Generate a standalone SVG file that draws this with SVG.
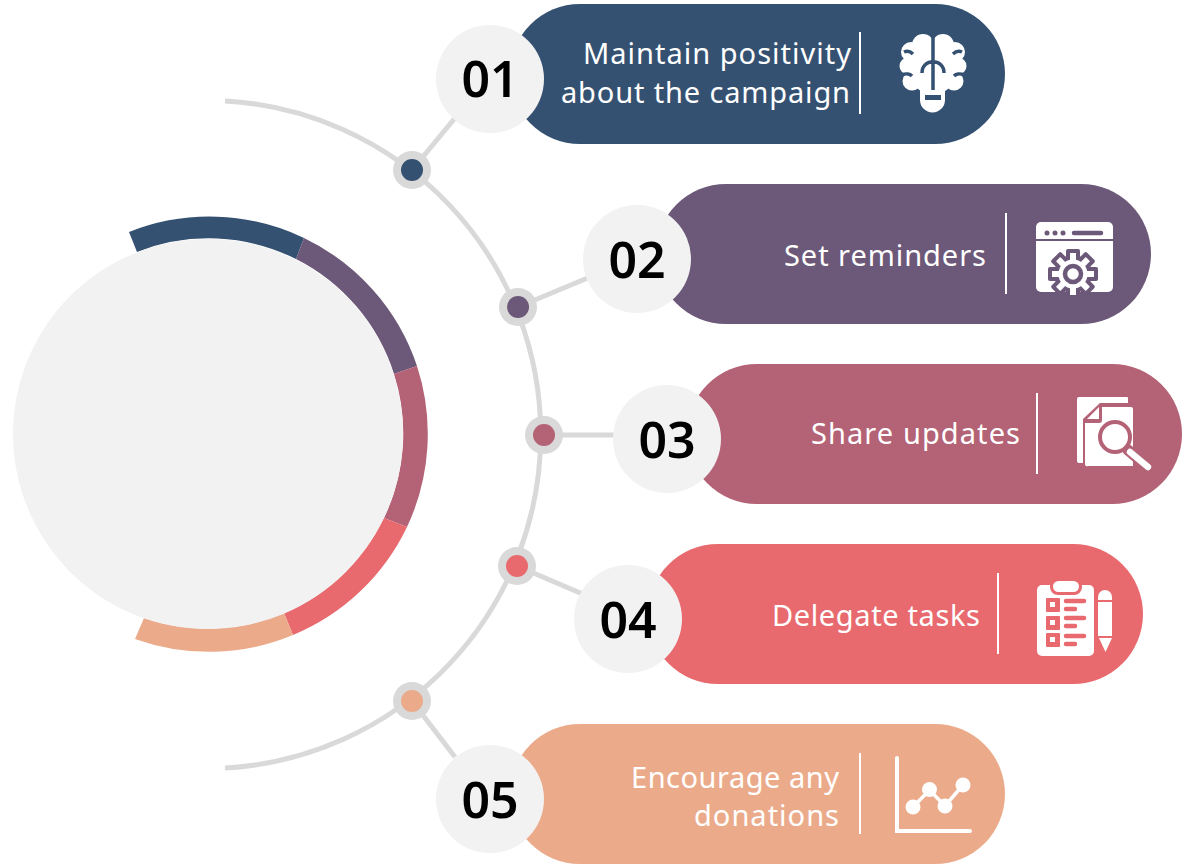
<svg xmlns="http://www.w3.org/2000/svg" width="1192" height="865" viewBox="0 0 1192 865">
<style>
.link{fill:none;stroke:#d9d9d9;stroke-width:5}
.halo{fill:#d9d9d9}
.disc{fill:#f2f2f2}
.num{font-family:"Noto Sans","Liberation Sans",sans-serif;font-size:50px;font-weight:600;fill:#000;text-anchor:middle}
.lbl{font-family:"Noto Sans","Liberation Sans",sans-serif;font-size:29px;fill:#fff}
.div{stroke:#fff;stroke-width:2}
.w{fill:#fff}
</style>
<defs>
<rect id="toothD" x="-7" y="-25" width="14" height="12" rx="2"/>
<rect id="toothW" x="-3" y="-21" width="6" height="9"/>
</defs>
<g id="hub">
<path d="M129 232A219 219 0 0 1 304 238L296 259A195 195 0 0 0 137 252Z" fill="#355172"/>
<path d="M304 238A219 219 0 0 1 417 366L394 374A195 195 0 0 0 296 259Z" fill="#6c5878"/>
<path d="M417 366A219 219 0 0 1 407 527L384 518A195 195 0 0 0 394 374Z" fill="#b46275"/>
<path d="M407 527A219 219 0 0 1 293 635L284 613A195 195 0 0 0 384 518Z" fill="#e86a6e"/>
<path d="M293 635A219 219 0 0 1 135 639L144 618A195 195 0 0 0 284 613Z" fill="#ebab8b"/>
<circle class="disc" cx="208" cy="434" r="195"/>
</g>
<g id="connectors">
<path class="link" d="M225 101A334 334 0 0 1 225 768"/>
<path class="link" d="M412 170L455 118"/>
<path class="link" d="M518 307L590 277"/>
<path class="link" d="M544 435L620 435"/>
<path class="link" d="M517 566L585 595"/>
<path class="link" d="M412 701L455 757"/>
</g>
<g id="node-01">
<circle class="halo" cx="412" cy="170" r="19"/><circle cx="412" cy="170" r="11" fill="#355172"/>
<rect x="510" y="4" width="495" height="140" rx="70" fill="#355172"/>
<circle class="disc" cx="490" cy="79" r="54"/>
<text class="num" x="490" y="97">01</text>
<text class="lbl" x="583" y="64" textLength="268" lengthAdjust="spacing">Maintain positivity</text>
<text class="lbl" x="561" y="103" textLength="289" lengthAdjust="spacing">about the campaign</text>
<line class="div" x1="860" y1="32" x2="860" y2="114"/>
<g id="icon-brain">
<g class="w">
<circle cx="923" cy="45" r="11"/><circle cx="943" cy="45" r="11"/>
<circle cx="911" cy="52" r="10"/><circle cx="955" cy="52" r="10"/>
<circle cx="908" cy="66" r="8.500"/><circle cx="958" cy="66" r="8.500"/>
<circle cx="912" cy="81" r="9.500"/><circle cx="954" cy="81" r="9.500"/>
<circle cx="926" cy="80" r="12"/><circle cx="940" cy="80" r="12"/>
<circle cx="933" cy="62" r="24"/>
<path d="M920 88H945V100A12.500 12.500 0 0 1 920 100Z"/>
</g>
<path d="M933 34V90M922 73C922 58 944 58 944 73M904 52C908 50 911 52 913 54M962 52C958 50 955 52 953 54M902 75C906 73 910 74 912 76M964 75C960 73 956 74 954 76" fill="none" stroke="#355172" stroke-width="3.500"/>
<rect x="925" y="95" width="16" height="5" fill="#355172"/>
</g>
</g>
<g id="node-02">
<circle class="halo" cx="518" cy="307" r="19"/><circle cx="518" cy="307" r="11" fill="#6c5878"/>
<rect x="656" y="184" width="495" height="140" rx="70" fill="#6c5878"/>
<circle class="disc" cx="637" cy="259" r="54"/>
<text class="num" x="637" y="278">02</text>
<text class="lbl" x="784" y="266" textLength="202" lengthAdjust="spacing">Set reminders</text>
<line class="div" x1="1006" y1="213" x2="1006" y2="294"/>
<g id="icon-gear">
<rect class="w" x="1036" y="222" width="77" height="70" rx="5"/>
<path d="M1036 240H1113" stroke="#6c5878" stroke-width="2"/>
<circle cx="1047" cy="233" r="2.500" fill="#6c5878"/><circle cx="1055" cy="233" r="2.500" fill="#6c5878"/><circle cx="1063" cy="233" r="2.500" fill="#6c5878"/>
<path d="M1074 233H1101" stroke="#6c5878" stroke-width="4.500" stroke-linecap="round"/>
<g transform="translate(1073 274)">
<g fill="#6c5878">
<circle r="19"/>
<use href="#toothD"/><use href="#toothD" transform="rotate(45)"/><use href="#toothD" transform="rotate(90)"/><use href="#toothD" transform="rotate(135)"/><use href="#toothD" transform="rotate(180)"/><use href="#toothD" transform="rotate(225)"/><use href="#toothD" transform="rotate(270)"/><use href="#toothD" transform="rotate(315)"/>
</g>
<g fill="#fff">
<circle r="14.500"/>
<use href="#toothW"/><use href="#toothW" transform="rotate(45)"/><use href="#toothW" transform="rotate(90)"/><use href="#toothW" transform="rotate(135)"/><use href="#toothW" transform="rotate(180)"/><use href="#toothW" transform="rotate(225)"/><use href="#toothW" transform="rotate(270)"/><use href="#toothW" transform="rotate(315)"/>
</g>
<circle r="8" fill="#fff" stroke="#6c5878" stroke-width="4.500"/>
</g>
</g>
</g>
<g id="node-03">
<circle class="halo" cx="544" cy="435" r="19"/><circle cx="544" cy="435" r="11" fill="#b46275"/>
<rect x="687" y="364" width="495" height="140" rx="70" fill="#b46275"/>
<circle class="disc" cx="667" cy="439" r="54"/>
<text class="num" x="667" y="458">03</text>
<text class="lbl" x="811" y="444" textLength="209" lengthAdjust="spacing">Share updates</text>
<line class="div" x1="1037" y1="393" x2="1037" y2="474"/>
<g id="icon-search">
<path class="w" d="M1079 397H1127A1 1 0 0 1 1128 398V403H1100L1083 419V463H1079A2 2 0 0 1 1077 461V399A2 2 0 0 1 1079 397Z"/>
<path class="w" d="M1102 407H1131A2 2 0 0 1 1133 409V466H1088A2 2 0 0 1 1085 464V423H1099A3 3 0 0 0 1102 420Z"/>
<path class="w" d="M1087 419L1099 407V419Z"/>
<path d="M1128 450L1148 467" stroke="#b46275" stroke-width="11" stroke-linecap="round"/>
<path d="M1130 452L1148 467" stroke="#fff" stroke-width="6.500" stroke-linecap="round"/>
<circle cx="1115" cy="437" r="15" fill="#fff" stroke="#b46275" stroke-width="4"/>
</g>
</g>
<g id="node-04">
<circle class="halo" cx="517" cy="566" r="19"/><circle cx="517" cy="566" r="11" fill="#e86a6e"/>
<rect x="648" y="544" width="495" height="140" rx="70" fill="#e86a6e"/>
<circle class="disc" cx="628" cy="619" r="54"/>
<text class="num" x="628" y="638">04</text>
<text class="lbl" x="772" y="626" textLength="208" lengthAdjust="spacing">Delegate tasks</text>
<line class="div" x1="998" y1="573" x2="998" y2="654"/>
<g id="icon-list">
<rect class="w" x="1037" y="585" width="57" height="71" rx="5"/>
<rect x="1050" y="578" width="32" height="17" rx="8" fill="#e86a6e"/>
<rect class="w" x="1053" y="581" width="26" height="11" rx="5.500"/>
<g fill="#e86a6e">
<rect x="1046" y="598" width="14" height="14" rx="1"/><rect x="1046" y="616" width="14" height="14" rx="1"/><rect x="1046" y="633" width="14" height="14" rx="1"/>
</g>
<g fill="#fff"><rect x="1050" y="602" width="5" height="5"/><rect x="1050" y="620" width="5" height="5"/><rect x="1050" y="637" width="5" height="5"/></g>
<path d="M1066 601H1084M1066 609H1075M1066 618H1084M1066 626H1075M1066 636H1084M1066 644H1075" stroke="#e86a6e" stroke-width="4.500" stroke-linecap="round"/>
<path class="w" d="M1098 600V597A7 7 0 0 1 1112 597V600Z"/>
<rect class="w" x="1098" y="602" width="14" height="34"/>
<path class="w" d="M1099 638H1112L1105.500 652Z"/>
</g>
</g>
<g id="node-05">
<circle class="halo" cx="412" cy="701" r="19"/><circle cx="412" cy="701" r="11" fill="#ebab8b"/>
<rect x="510" y="724" width="495" height="140" rx="70" fill="#ebab8b"/>
<circle class="disc" cx="490" cy="799" r="54"/>
<text class="num" x="490" y="818">05</text>
<text class="lbl" x="631" y="788" textLength="208" lengthAdjust="spacing">Encourage any</text>
<text class="lbl" x="694" y="826" textLength="145" lengthAdjust="spacing">donations</text>
<line class="div" x1="860" y1="753" x2="860" y2="834"/>
<g id="icon-chart">
<path d="M897 758V831H970" fill="none" stroke="#fff" stroke-width="4" stroke-linecap="round"/>
<path d="M913 807L929.500 790L945 806L963 785" fill="none" stroke="#fff" stroke-width="3.500"/>
<circle class="w" cx="913" cy="807" r="7.500"/><circle class="w" cx="929.500" cy="789.500" r="7.500"/><circle class="w" cx="945" cy="806" r="7.500"/><circle class="w" cx="963" cy="785" r="7.500"/>
</g>
</g>
</svg>
